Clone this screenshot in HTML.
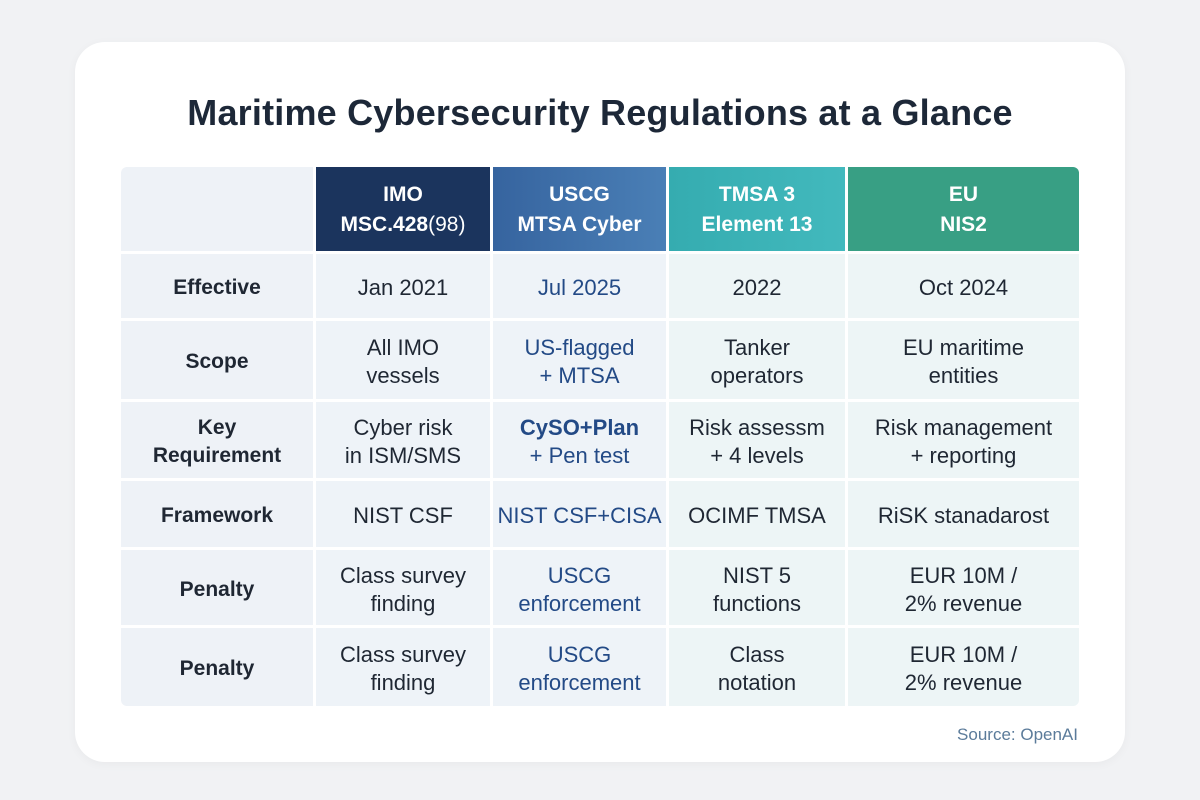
<!DOCTYPE html>
<html><head><style>
body{margin:0;width:1200px;height:800px;background:#f1f2f4;font-family:"Liberation Sans","DejaVu Sans",sans-serif;position:relative;overflow:hidden}
.card{position:absolute;left:75px;top:42px;width:1050px;height:720px;background:#fff;border-radius:30px;box-shadow:0 2px 10px rgba(0,0,0,0.04)}
h1{position:absolute;left:0;width:1200px;top:92px;margin:0;text-align:center;font-size:36px;font-weight:bold;color:#1d2838;letter-spacing:0.2px}
.c{position:absolute;display:flex;align-items:center;justify-content:center;text-align:center;font-size:22px;line-height:28px;color:#1f2733;box-sizing:border-box;padding-top:4px}
.h{color:#fff;font-weight:bold;font-size:21px;line-height:30px;padding-top:2px}
.l{font-weight:bold;color:#1f2733;font-size:21px}
.b{color:#234a86}
.src{position:absolute;right:122px;top:725px;font-size:17px;color:#5b7b9a}
</style></head><body>
<div class="card"></div>
<h1>Maritime Cybersecurity Regulations at a Glance</h1>
<div class="c" style="left:121px;top:167px;width:192px;height:84px;background:#eef2f7;border-top-left-radius:6px"></div>
<div class="c h" style="left:316px;top:167px;width:174px;height:84px;background:#1b345d"><span>IMO<br>MSC.428<span style="font-weight:normal">(98)</span></span></div>
<div class="c h" style="left:493px;top:167px;width:173px;height:84px;background:linear-gradient(90deg,#36649f,#4a7fb6)">USCG<br>MTSA Cyber</div>
<div class="c h" style="left:669px;top:167px;width:176px;height:84px;background:linear-gradient(90deg,#35acb0,#42b9bd)">TMSA 3<br>Element 13</div>
<div class="c h" style="left:848px;top:167px;width:231px;height:84px;background:#389f84;border-top-right-radius:6px">EU<br>NIS2</div>

<div class="c l" style="left:121px;top:254px;width:192px;height:64px;background:#eef2f7">Effective</div>
<div class="c" style="left:316px;top:254px;width:174px;height:64px;background:#eef3f8">Jan 2021</div>
<div class="c b" style="left:493px;top:254px;width:173px;height:64px;background:#eef3f8">Jul 2025</div>
<div class="c" style="left:669px;top:254px;width:176px;height:64px;background:#edf5f6">2022</div>
<div class="c" style="left:848px;top:254px;width:231px;height:64px;background:#edf5f6">Oct 2024</div>

<div class="c l" style="left:121px;top:321px;width:192px;height:78px;background:#eef2f7">Scope</div>
<div class="c" style="left:316px;top:321px;width:174px;height:78px;background:#eef3f8">All IMO<br>vessels</div>
<div class="c b" style="left:493px;top:321px;width:173px;height:78px;background:#eef3f8">US-flagged<br>+ MTSA</div>
<div class="c" style="left:669px;top:321px;width:176px;height:78px;background:#edf5f6">Tanker<br>operators</div>
<div class="c" style="left:848px;top:321px;width:231px;height:78px;background:#edf5f6">EU maritime<br>entities</div>

<div class="c l" style="left:121px;top:402px;width:192px;height:76px;background:#eef2f7">Key<br>Requirement</div>
<div class="c" style="left:316px;top:402px;width:174px;height:76px;background:#eef3f8">Cyber risk<br>in ISM/SMS</div>
<div class="c b" style="left:493px;top:402px;width:173px;height:76px;background:#eef3f8"><span><b>CySO+Plan</b><br>+ Pen test</span></div>
<div class="c" style="left:669px;top:402px;width:176px;height:76px;background:#edf5f6">Risk assessm<br>+ 4 levels</div>
<div class="c" style="left:848px;top:402px;width:231px;height:76px;background:#edf5f6">Risk management<br>+ reporting</div>

<div class="c l" style="left:121px;top:481px;width:192px;height:66px;background:#eef2f7">Framework</div>
<div class="c" style="left:316px;top:481px;width:174px;height:66px;background:#eef3f8">NIST CSF</div>
<div class="c b" style="left:493px;top:481px;width:173px;height:66px;background:#eef3f8">NIST CSF+CISA</div>
<div class="c" style="left:669px;top:481px;width:176px;height:66px;background:#edf5f6">OCIMF TMSA</div>
<div class="c" style="left:848px;top:481px;width:231px;height:66px;background:#edf5f6">RiSK stanadarost</div>

<div class="c l" style="left:121px;top:550px;width:192px;height:75px;background:#eef2f7">Penalty</div>
<div class="c" style="left:316px;top:550px;width:174px;height:75px;background:#eef3f8">Class survey<br>finding</div>
<div class="c b" style="left:493px;top:550px;width:173px;height:75px;background:#eef3f8">USCG<br>enforcement</div>
<div class="c" style="left:669px;top:550px;width:176px;height:75px;background:#edf5f6">NIST 5<br>functions</div>
<div class="c" style="left:848px;top:550px;width:231px;height:75px;background:#edf5f6">EUR 10M /<br>2% revenue</div>

<div class="c l" style="left:121px;top:628px;width:192px;height:78px;background:#eef2f7;border-bottom-left-radius:6px">Penalty</div>
<div class="c" style="left:316px;top:628px;width:174px;height:78px;background:#eef3f8">Class survey<br>finding</div>
<div class="c b" style="left:493px;top:628px;width:173px;height:78px;background:#eef3f8">USCG<br>enforcement</div>
<div class="c" style="left:669px;top:628px;width:176px;height:78px;background:#edf5f6">Class<br>notation</div>
<div class="c" style="left:848px;top:628px;width:231px;height:78px;background:#edf5f6;border-bottom-right-radius:6px">EUR 10M /<br>2% revenue</div>

<div class="src">Source: OpenAI</div>
</body></html>
